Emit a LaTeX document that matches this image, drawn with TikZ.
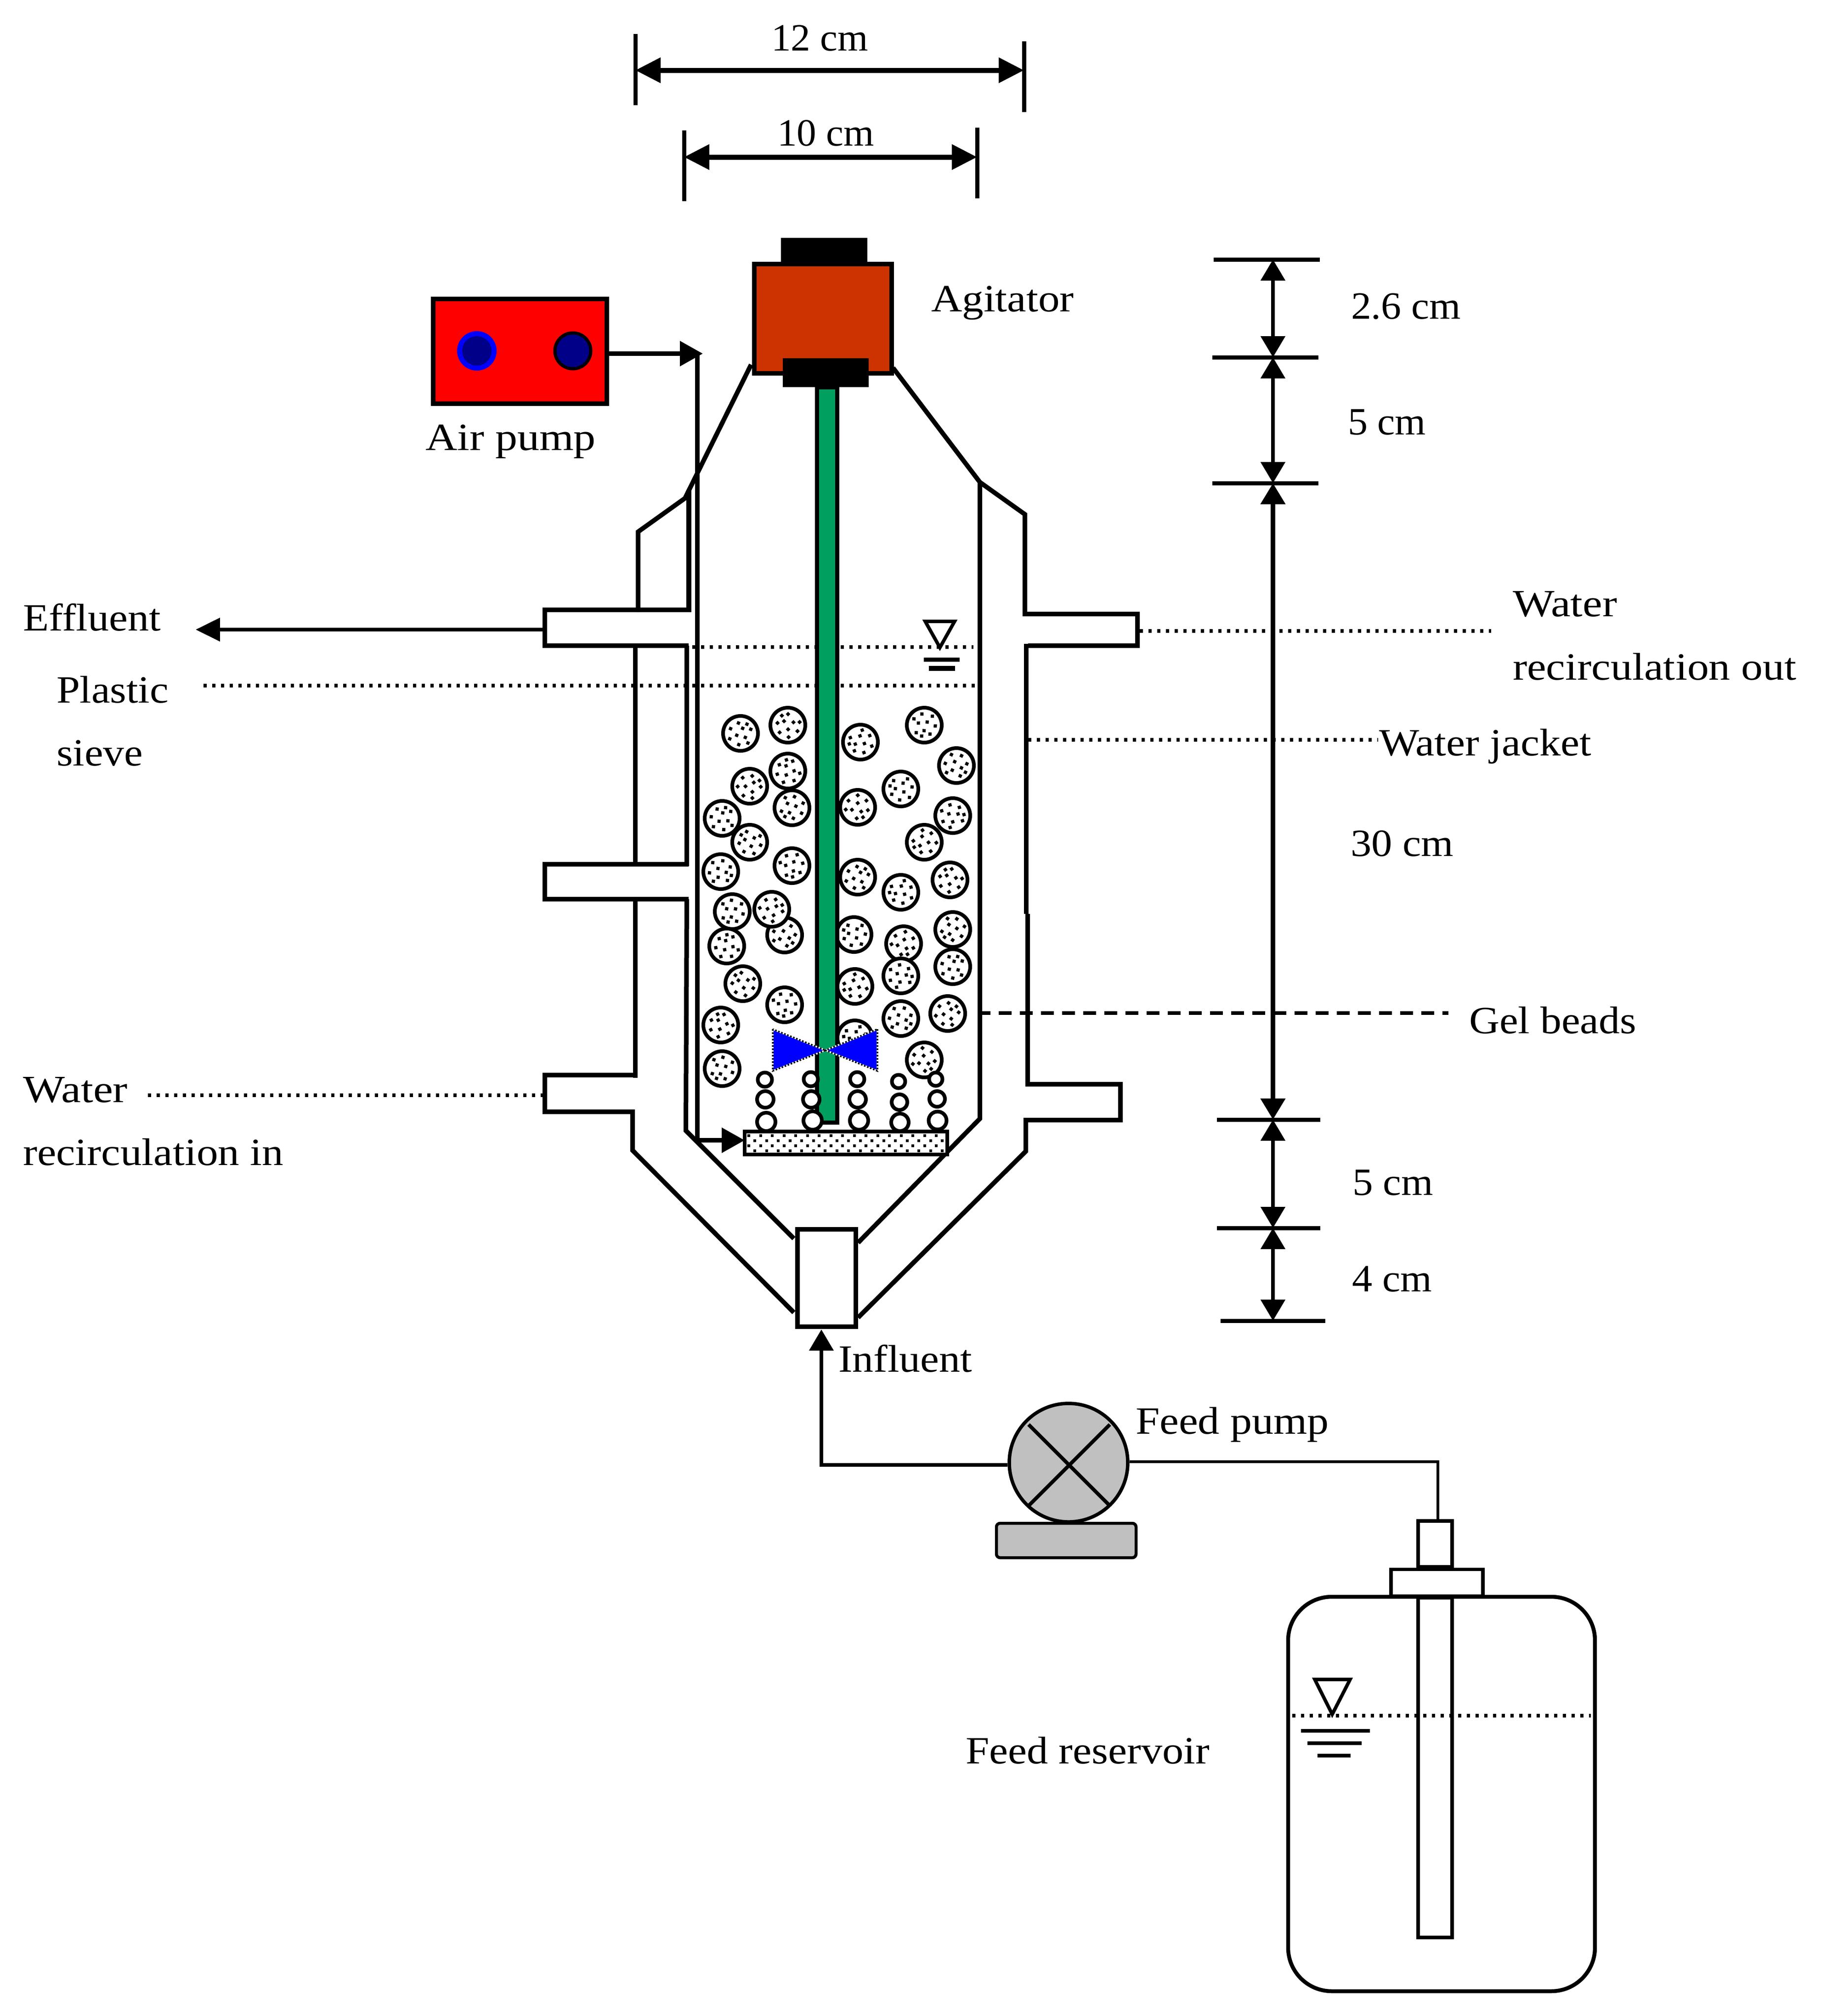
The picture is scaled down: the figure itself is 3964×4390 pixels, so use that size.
\documentclass[tikz,border=0pt]{standalone}
\usepackage{fontspec}
\usepackage{graphicx}
\setmainfont{Liberation Serif}
\usetikzlibrary{arrows.meta}
\definecolor{motorc}{HTML}{CC3300}
\definecolor{shaftc}{HTML}{009F60}
\definecolor{navyc}{HTML}{000088}
\definecolor{pumpg}{HTML}{C0C0C0}
\newcommand{\tw}[2]{\resizebox{#1pt}{\height}{#2}}
\tikzset{
  x=0.1pt,y=-0.1pt,
  wall/.style={line width=1pt,line join=miter},
  lbl/.style={anchor=base west,inner sep=0pt,outer sep=0pt,font=\fontsize{8.4}{10}\selectfont},
  boxn/.style={rectangle,draw=black,inner sep=0pt,outer sep=0pt},
  blk/.style={rectangle,fill=black,inner sep=0pt,outer sep=0pt},
  leader/.style={line width=0.75pt,dash pattern=on 0.7pt off 1.2pt},
  tickl/.style={line width=0.9pt},
  dimh/.style={line width=1.1pt,{Triangle[length=5.5pt,width=5.3pt]}-{Triangle[length=5.5pt,width=5.3pt]}},
  dimv/.style={line width=0.85pt,{Triangle[length=4.6pt,width=5.2pt]}-{Triangle[length=4.6pt,width=5.2pt]}},
  dimvb/.style={line width=1.05pt,{Triangle[length=4.6pt,width=5.2pt]}-{Triangle[length=4.6pt,width=5.2pt]}},
  flow/.style={line width=0.95pt,-{Triangle[length=5pt,width=5.3pt]}},
  beadp/.pic={
    \draw[line width=0.8pt,fill=white] (0,0) circle[radius=3.8pt];
    \foreach \a/\b in {-20/-17,1/-24,19/-13,-7/-6,12/0,-24/6,-4/13,17/17,-13/23,24/5}
      \fill (\a-3.5,\b-3.5) rectangle (\a+3.5,\b+3.5);
  },
  bubble/.style={line width=0.8pt,fill=white}
}
\begin{document}
\begin{tikzpicture}
\useasboundingbox (0,0) rectangle (3964,4390);
\fill[white] (0,0) rectangle (3964,4390);

% leaders behind everything
\draw[leader] (1507,1409) -- (2119,1409);
\draw[leader] (443,1493) -- (2122,1493);
\draw[leader] (2481,1374) -- (3246,1374);
\draw[leader] (2238,1611) -- (3000,1611);
\draw[leader] (322,2385) -- (1181,2385);
\draw[line width=0.75pt,dash pattern=on 2.8pt off 1.8pt] (2128,2206) -- (3153,2206);

% beads
\foreach \bx/\by [count=\i] in {1612/1597,1715/1579,1873/1616,2012/1579,2082/1667,1632/1712,1715/1679,1961/1718,1724/1759,1867/1758,2074/1776,1572/1782,1632/1834,2012/1834,1724/1885,1569/1898,1867/1910,2068/1916,1961/1943,1594/1985,1708/2036,1680/1980,1582/2060,1859/2035,2074/2024,1967/2055,1961/2125,2074/2105,1617/2142,1861/2148,1708/2188,1961/2218,2063/2207,1569/2232,1861/2260,1572/2327,2012/2308}
  \pic[rotate=\i*67] at (\bx,\by) {beadp};

% vessel: upper left
\draw[wall] (1635,794) -- (1491,1085) -- (1389,1158) -- (1389,1333);
\draw[wall,line width=1.1pt] (1499,1067) -- (1499,1333);
\draw[wall] (1505,1328) -- (1186,1328) -- (1186,1406) -- (1499,1406);
\draw[wall] (1383,1406) -- (1383,1882);
\draw[wall] (1495,1406) -- (1495,1886);
\draw[wall] (1499,1882) -- (1186,1882) -- (1186,1958) -- (1499,1958);
\draw[wall] (1383,1958) -- (1383,2347);
\draw[wall] (1495,1958) -- (1493,2462) -- (1728,2697);
\draw[wall] (1378,2341) -- (1186,2341) -- (1186,2421) -- (1377,2421) -- (1377,2505) -- (1728,2858);
% vessel: right
\draw[wall] (1944,801) -- (2133,1050) -- (2231,1120) -- (2231,1337) -- (2476,1337) -- (2476,1406) -- (2238,1406);
\draw[wall] (2133,1050) -- (2133,2436) -- (1868,2706);
\draw[wall] (2233.5,1402) -- (2233.5,1990);
\draw[wall] (2237,1990) -- (2237,2361) -- (2439,2361) -- (2439,2439) -- (2233,2439) -- (2233,2507) -- (1868,2869);

% air pump and tube
\node[boxn,wall,fill=red,minimum width=37.9pt,minimum height=22.8pt] (airpump) at (1132,764.5) {};
\fill[blue] (1038,764) circle[radius=4.3pt];
\fill[navyc] (1038,764) circle[radius=3.2pt];
\draw[line width=0.7pt,fill=navyc] (1247,764) circle[radius=3.9pt];
\coordinate (airtop) at (1518,770);
\coordinate (airtip) at (1530,770);
\coordinate (airbot) at (1518,2483);
\draw[flow] (airpump.east |- airtip) -- (airtip);
\draw[line width=1.05pt] (airtop) -- (airbot);

% sieve
\node[boxn,line width=0.85pt,fill=white,minimum width=44.1pt,minimum height=5pt] (sieve) at (1841.5,2489) {};
\foreach \r/\yy/\xo in {0/2473/1630,1/2484/1643,2/2495/1630,3/2506/1643}
  \foreach \c in {0,...,16}
    \fill (\xo+\c*25.5-3,\yy-3) rectangle (\xo+\c*25.5+3,\yy+3);
\draw[flow] (airbot) -- (sieve.west |- airbot);

% shaft
\draw[line width=0.9pt,fill=shaftc] (1778.5,843) rectangle (1822,2444);

% bubbles
\foreach \bx/\by/\rr in {1665/2351/1.55,1666/2394/1.8,1668/2443/2,1765/2350/1.55,1766/2394/1.8,1769/2440/2,1866/2350/1.55,1867/2394/1.8,1870/2440/2,1956/2355/1.45,1958/2400/1.7,1959/2444/1.9,2037/2350/1.45,2040/2393/1.7,2041/2440/1.95}
  \draw[bubble] (\bx,\by) circle[radius=\rr pt];

% impeller
\foreach \tipx/\edgex in {1797/1682,1797/1910}{
  \fill[blue] (\edgex,2241) -- (\edgex,2332) -- (\tipx,2287) -- cycle;
  \draw[white,line width=0.35pt] (\edgex,2241) -- (\edgex,2332) -- (\tipx,2287) -- cycle;
  \draw[black,line width=0.35pt,dash pattern=on 0.35pt off 0.35pt] (\edgex,2241) -- (\edgex,2332) -- (\tipx,2287) -- cycle;
}

% agitator
\node[boxn,wall,fill=motorc,minimum width=29.9pt,minimum height=23.8pt] (agibox) at (1791,693.5) {};
\node[blk,minimum width=18.8pt,minimum height=5.8pt] (agitop) at (1794,547) {};
\node[blk,minimum width=18.7pt,minimum height=6.3pt] (agibot) at (1797.5,811.5) {};

% upper level symbol
\draw[line width=0.75pt] (2014,1353) -- (2078,1353) -- (2046,1410) -- cycle;
\draw[line width=0.9pt] (2011,1436) -- (2089,1436);
\draw[line width=1.1pt] (2022,1455) -- (2079,1455);

% influent
\node[boxn,wall,fill=white,minimum width=12.7pt,minimum height=21.2pt] (influent) at (1799,2782.5) {};

% effluent arrow
\coordinate (efftip) at (426,1371);
\coordinate (effstart) at (1181,1371);
\draw[line width=0.8pt,-{Triangle[length=5.3pt,width=5pt]}] (effstart) -- (efftip);

% feed pump
\node[rectangle,draw=black,line width=0.65pt,fill=pumpg,rounded corners=0.8pt,inner sep=0pt,minimum width=30.4pt,minimum height=7.5pt] (pumpbase) at (2321,3354.5) {};
\node[circle,draw=black,line width=0.75pt,fill=pumpg,inner sep=0pt,minimum size=25.8pt] (feedpump) at (2326,3185) {};
\draw[line width=0.8pt] (2239,3102) -- (2416,3279);
\draw[line width=0.8pt] (2416,3102) -- (2239,3279);
\coordinate (infeedc) at (1788,3190);
\coordinate (infeedt) at (1788,2895);
\draw[line width=0.75pt,-{Triangle[length=4.6pt,width=5.2pt]}] (feedpump.west |- infeedc) -- (infeedc) -- (infeedt);

% reservoir
\node[rectangle,draw=black,line width=0.85pt,fill=white,rounded corners=9.5pt,inner sep=0pt,minimum width=66.8pt,minimum height=85.9pt] (reservoir) at (3138,3906.5) {};
\draw[leader] (2813,3736) -- (3463,3736);
\node[boxn,line width=0.75pt,minimum width=7.4pt,minimum height=74pt] (intube) at (3124,3849) {};
\node[boxn,line width=0.75pt,fill=white,minimum width=20pt,minimum height=5.8pt] (collar) at (3128,3446.5) {};
\node[boxn,line width=0.75pt,fill=white,minimum width=7.4pt,minimum height=10pt] (captube) at (3124,3362) {};
\coordinate (feedc) at (3130,3183);
\draw[line width=0.65pt] (feedpump.east |- feedc) -- (feedc) -- (feedc |- captube.north);
\draw[line width=0.75pt] (2862,3657) -- (2939,3657) -- (2900,3733) -- cycle;
\draw[line width=0.8pt] (2832,3769) -- (2982,3769);
\draw[line width=0.8pt] (2846,3796) -- (2964,3796);
\draw[line width=0.8pt] (2868,3823) -- (2940,3823);

% top dimensions
\coordinate (d12l) at (1383,153);
\coordinate (d12r) at (2229,153);
\coordinate (d10l) at (1489,342);
\coordinate (d10r) at (2127,342);
\draw[tickl] (1383,74) -- (1383,229);
\draw[tickl] (2229,90) -- (2229,244);
\draw[tickl] (1489,284) -- (1489,438);
\draw[tickl] (2127,278) -- (2127,432);
\draw[dimh] (d12l) -- (d12r);
\draw[dimh] (d10l) -- (d10r);

% right dimensions
\coordinate (v1) at (2771,565);
\coordinate (v2) at (2771,778);
\coordinate (v3) at (2771,1052);
\coordinate (v4) at (2771,2438);
\coordinate (v5) at (2771,2674);
\coordinate (v6) at (2771,2876);
\draw[tickl] (2642,565) -- (2873,565);
\draw[tickl] (2639,778) -- (2870,778);
\draw[tickl] (2639,1052) -- (2870,1052);
\draw[tickl] (2649,2438) -- (2874,2438);
\draw[tickl] (2649,2674) -- (2874,2674);
\draw[tickl] (2657,2876) -- (2885,2876);
\draw[dimv] (v1) -- (v2);
\draw[dimv] (v2) -- (v3);
\draw[dimvb] (v3) -- (v4);
\draw[dimv] (v4) -- (v5);
\draw[dimv] (v5) -- (v6);

% labels
\node[lbl] (l12) at (1679,110) {\tw{21.1}{12 cm}};
\node[lbl] (l10) at (1692,317) {\tw{21.1}{10 cm}};
\node[lbl] (lagi) at (2027,678) {\tw{31.1}{Agitator}};
\node[lbl] (lair) at (926,980) {\tw{37.1}{Air pump}};
\node[lbl] (leff) at (50,1373) {\tw{30}{Effluent}};
\node[lbl] (lpl) at (123,1530) {\tw{24.4}{Plastic}};
\node[lbl] (lsi) at (123,1667) {\tw{18.8}{sieve}};
\node[lbl] (lwi1) at (50,2400) {\tw{22.8}{Water}};
\node[lbl] (lwi2) at (50,2537) {\tw{56.7}{recirculation in}};
\node[lbl] (lwo1) at (3293,1342) {\tw{22.7}{Water}};
\node[lbl] (lwo2) at (3293,1480) {\tw{61.7}{recirculation out}};
\node[lbl] (lwj) at (3002,1645) {\tw{46.2}{Water jacket}};
\node[lbl] (lgel) at (3198,2250) {\tw{36.4}{Gel beads}};
\node[lbl] (linf) at (1825,2987) {\tw{29.1}{Influent}};
\node[lbl] (lfp) at (2472,3122) {\tw{42.1}{Feed pump}};
\node[lbl] (lfr) at (2102,3840) {\tw{53.1}{Feed reservoir}};
\node[lbl] (d26) at (2941,694) {\tw{23.9}{2.6 cm}};
\node[lbl] (d5a) at (2934,946) {\tw{17}{5 cm}};
\node[lbl] (d30) at (2940,1864) {\tw{22.4}{30 cm}};
\node[lbl] (d5b) at (2944,2602) {\tw{17.6}{5 cm}};
\node[lbl] (d4) at (2943,2812) {\tw{17.4}{4 cm}};
\end{tikzpicture}
\end{document}
